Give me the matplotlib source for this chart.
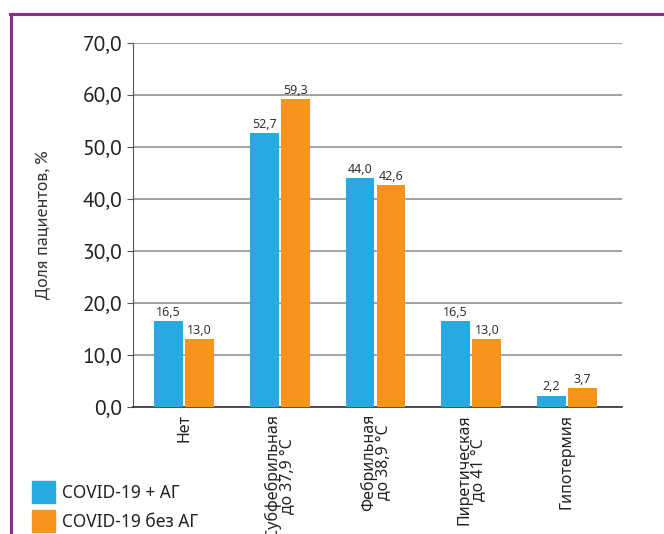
import matplotlib
matplotlib.use("Agg")
import matplotlib.pyplot as plt
from matplotlib.lines import Line2D
from matplotlib.patches import Rectangle
import numpy as np

categories = ["Нет", "Субфебрильная\nдо 37,9 °C", "Фебрильная\nдо 38,9 °C",
              "Пиретическая\nдо 41 °C", "Гипотермия"]
with_ag = [16.5, 52.7, 44.0, 16.5, 2.2]
without_ag = [13.0, 59.3, 42.6, 13.0, 3.7]
series_names = ["COVID-19 + АГ", "COVID-19 без АГ"]
yticks = [0, 10, 20, 30, 40, 50, 60, 70]

blue = "#27A9E1"
orange = "#F7941D"
narrow = ["Noto Sans", "DejaVu Sans"]
main = ["PT Sans", "DejaVu Sans"]

fig = plt.figure(figsize=(6.64, 5.34), dpi=100)
W, H = 664, 534
ax = fig.add_axes([133 / W, 1 - 407 / H, (622 - 133) / W, (407 - 43) / H])

x = np.arange(len(categories))
bw = 0.30
off = 0.163
b1 = ax.bar(x - off, with_ag, bw, color=blue, zorder=3)
b2 = ax.bar(x + off, without_ag, bw, color=orange, zorder=3)

for bars, vals in ((b1, with_ag), (b2, without_ag)):
    for r, v in zip(bars, vals):
        ax.text(r.get_x() + r.get_width() / 2, v + 0.4, f"{v:.1f}".replace(".", ","),
                ha="center", va="bottom", fontsize=9, color="#333333",
                family=narrow, zorder=4)

ax.set_ylim(0, 70)
ax.set_xlim(-0.533, 4.575)
ax.set_yticks(yticks)
ax.set_yticklabels([f"{t:.1f}".replace(".", ",") for t in yticks],
                   fontsize=15.5, family=main, color="#222222")
ax.yaxis.grid(True, color="#999999", linewidth=1.3, zorder=0)
ax.set_axisbelow(True)
for s in ["top", "right"]:
    ax.spines[s].set_visible(False)
ax.spines["left"].set_color("#555555")
ax.spines["left"].set_linewidth(0.8)
ax.spines["bottom"].set_color("#333333")
ax.spines["bottom"].set_linewidth(1.2)
ax.tick_params(axis="y", length=4, width=0.8, color="#555555", pad=4)
ax.tick_params(axis="x", length=0, pad=5)
ax.set_xticks(x)
ax.set_xticklabels(categories, rotation=90, fontsize=11.5, family=narrow,
                   color="#222222", va="top", ha="center", linespacing=0.85)
ax.set_ylabel("Доля пациентов, %", fontsize=13, family=main, color="#333333")
ax.yaxis.set_label_coords(-0.165, 0.5)

# legend
for i, (name, col) in enumerate(zip(series_names, [blue, orange])):
    y0 = 481 + i * 29
    fig.add_artist(Rectangle((32 / W, 1 - (y0 + 22) / H), 23 / W, 22 / H,
                             transform=fig.transFigure, color=col))
    fig.text(62 / W, 1 - (y0 + 12) / H, name, fontsize=12.5, family=narrow,
             color="#222222", va="center", ha="left")

# purple frame
purple = "#8E2C8E"
fig.add_artist(Line2D([11 / W, 11 / W], [0, 1 - 14 / H], transform=fig.transFigure,
                      color=purple, linewidth=2.2))
fig.add_artist(Line2D([10 / W, 1], [1 - 14 / H, 1 - 14 / H], transform=fig.transFigure,
                      color=purple, linewidth=2.2))

fig.savefig("out.png", dpi=100)
